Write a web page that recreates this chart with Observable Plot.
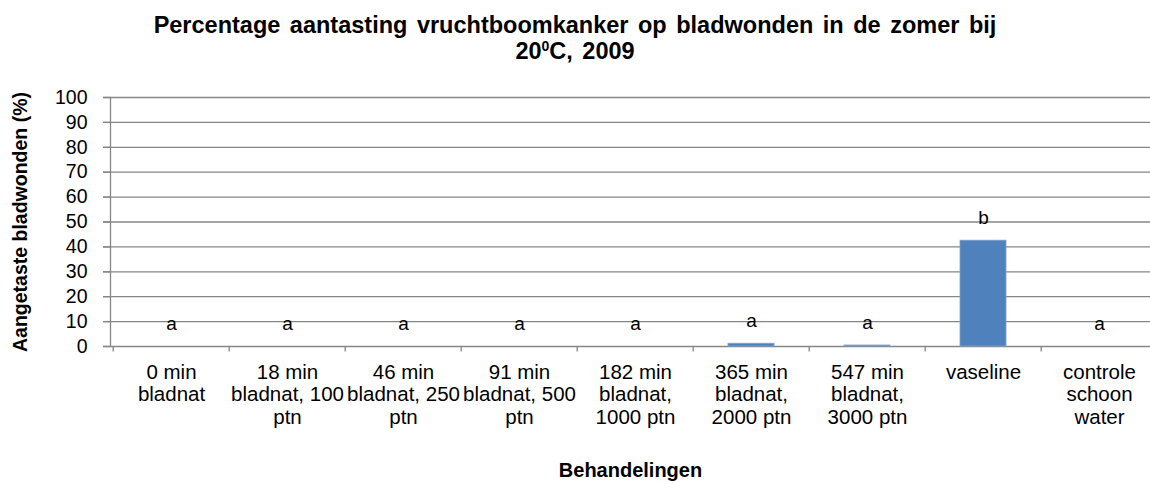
<!DOCTYPE html>
<html>
<head>
<meta charset="utf-8">
<script src="https://cdn.jsdelivr.net/npm/d3@7"></script>
<script src="https://cdn.jsdelivr.net/npm/@observablehq/plot@0.6"></script>
<style>
  html, body { margin: 0; padding: 0; background: #fff; overflow: hidden; width: 1150px; height: 484px; }
  #title { width: 1150px; height: 80px; box-sizing: border-box; padding-top: 12px; text-align: center; font-family: "Liberation Sans", Arial, sans-serif; font-weight: bold; font-size: 23.5px; line-height: 26px; word-spacing: 3px; color: #000; }
  #title sup { font-size: 14px; vertical-align: 8px; line-height: 0; word-spacing: 0; }
  #chart svg { display: block; overflow: visible; }
</style>
</head>
<body>
<div id="title">Percentage aantasting vruchtboomkanker op bladwonden in de zomer bij<br>20<sup>0</sup>C, 2009</div>
<div id="chart"></div>
<script>
const categories = ["0 min", "18 min", "46 min", "91 min", "182 min", "365 min", "547 min", "vaseline", "controle"];
const categoryLabels = [
  "0 min\nbladnat",
  "18 min\nbladnat, 100\nptn",
  "46 min\nbladnat, 250\nptn",
  "91 min\nbladnat, 500\nptn",
  "182 min\nbladnat,\n1000 ptn",
  "365 min\nbladnat,\n2000 ptn",
  "547 min\nbladnat,\n3000 ptn",
  "vaseline",
  "controle\nschoon\nwater"
];
const values = [0, 0, 0, 0, 0, 1.1, 0.4, 42.5, 0];
const letters = ["a", "a", "a", "a", "a", "a", "a", "b", "a"];
const yTicks = [0, 10, 20, 30, 40, 50, 60, 70, 80, 90, 100];
const yLabel = "Aangetaste bladwonden (%)";
const xLabel = "Behandelingen";

const data = categories.map((c, i) => ({cat: c, label: categoryLabels[i], value: values[i], letter: letters[i]}));
const labelOf = new Map(data.map(d => [d.cat, d.label]));

const W = 1150, H = 404;
const left = 110, right = 1160;
const step = (right - left) / categories.length;
const grey = "#868686";
const font = "'Liberation Sans', Arial, sans-serif";

const chart = Plot.plot({
  width: W,
  height: H,
  marginTop: 17,
  marginBottom: 138,
  marginLeft: left,
  marginRight: 0,
  style: {fontFamily: font, background: "#fff", color: "#000"},
  x: {type: "band", domain: categories, range: [left, right], paddingInner: 0.6, paddingOuter: 0.3, axis: null},
  y: {domain: [0, 100], axis: null},
  marks: [
    Plot.gridY(yTicks, {stroke: grey, strokeOpacity: 1, strokeWidth: 1.3, insetLeft: -7}),
    Plot.ruleX(categories, {x: d => d, dx: -step / 2, y1: 0, y2: -2.2, stroke: grey, strokeWidth: 1.3, clip: false}),
    Plot.frame({anchor: "left", stroke: grey, strokeWidth: 1.3}),
    Plot.barY(data, {x: "cat", y: "value", fill: "#4F81BD", stroke: "#7EA1CD", strokeWidth: 0.8}),
    Plot.text(data, {x: "cat", y: "value", text: "letter", dy: -23, fontSize: 19, fill: "#000"}),
    Plot.axisY(yTicks, {tickSize: 7, tickPadding: 16, stroke: grey, fill: "#000", fontSize: 19.5, tickFormat: d => String(d), strokeWidth: 1.3, label: null}),
    Plot.axisX(categories, {tickSize: 0, tickPadding: 16, fontSize: 20.5, lineHeight: 1.1, fill: "#000", tickFormat: d => labelOf.get(d), label: null}),
    Plot.text([xLabel], {frameAnchor: "bottom", dy: 124, text: d => d, fontWeight: "bold", fontSize: 20, fill: "#000", textAnchor: "middle", lineAnchor: "middle"}),
    Plot.text([yLabel], {frameAnchor: "left", dx: -90, rotate: -90, text: d => d, fontWeight: "bold", fontSize: 19.5, fill: "#000", textAnchor: "middle", lineAnchor: "middle"})
  ]
});
document.getElementById("chart").appendChild(chart);
</script>
</body>
</html>
